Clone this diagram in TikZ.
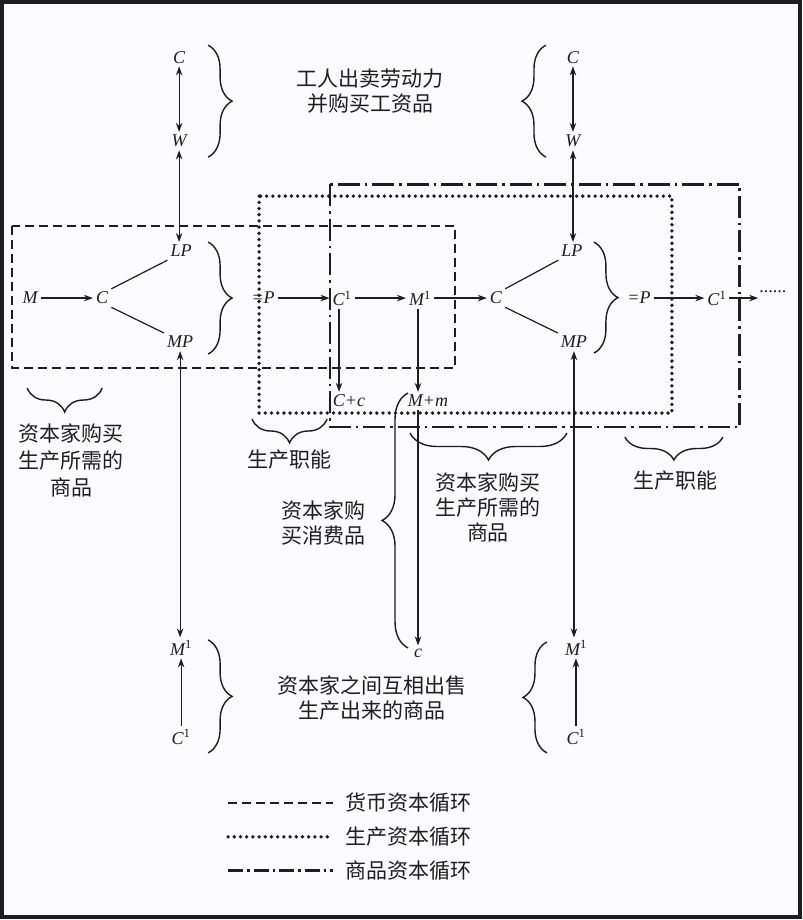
\documentclass[tikz,border=0pt]{standalone}
\usepackage{fontspec}
\newfontfamily\cjk{Noto Sans CJK SC}
\newfontfamily\lser{Liberation Serif}
\usetikzlibrary{arrows.meta,decorations.pathreplacing}
\definecolor{bgc}{HTML}{FBFAFC}
\definecolor{ink}{HTML}{1E1E1E}
\newcommand\supone{\textsuperscript{\upshape 1}}
\begin{document}
\begin{tikzpicture}[x=1pt,y=-1pt,
  every path/.style={draw=ink},
  m/.style={font=\lser\itshape\fontsize{18}{20}\selectfont, inner sep=3pt, text=ink},
  zh/.style={font=\cjk\fontsize{21}{25}\selectfont, align=center, inner sep=0pt, text=ink},
  ln/.style={line width=1.2pt},
  arr/.style={ln, -{Stealth[length=9pt,width=6.5pt]}},
  darr/.style={ln, {Stealth[length=9pt,width=6.5pt]}-{Stealth[length=9pt,width=6.5pt]}},
  br/.style={decorate, decoration={brace, amplitude=24pt}, line width=1.4pt},
  dashbox/.style={line width=1.5pt, dash pattern=on 9pt off 5pt},
  dotbox/.style={line width=3.8pt, line cap=round, dash pattern=on 0pt off 6.2pt},
  ddbox/.style={line width=2.8pt, dash pattern=on 22pt off 5pt on 2.5pt off 5pt}
]
\useasboundingbox (0,0) rectangle (802,920);
\fill[bgc] (0,0) rectangle (802,920);
\draw[line width=3.5pt] (2,2) rectangle (800,917);

% cycle boxes
\draw[dashbox] (12,226) rectangle (455,368);
\draw[dotbox] (259,196) rectangle (672,413);
\draw[ddbox] (330,184) rectangle (740,427);

% letter nodes
\node[m] (cTL) at (179,57) {C};
\node[m] (wTL) at (179,141) {W};
\node[m] (cTR) at (573,57) {C};
\node[m] (wTR) at (573,141) {W};
\node[m] (mL) at (30,298) {M};
\node[m] (cL) at (102,298) {C};
\node[m] (lpL) at (181,251) {LP};
\node[m] (mpL) at (180,342) {MP};
\node[m] (pL) at (263,298) {=P};
\node[m] (c1a) at (342,298) {C\supone};
\node[m] (m1a) at (420,298) {M\supone};
\node[m] (cR) at (496,298) {C};
\node[m] (lpR) at (572,251) {LP};
\node[m] (mpR) at (574,342) {MP};
\node[m] (pR) at (639,298) {=P};
\node[m] (c1b) at (717,298) {C\supone};
\node[m, font=\lser\fontsize{18}{20}\selectfont, inner sep=1pt] (dots) at (773,292) {......};
\node[m] (cc) at (349,401) {C+c};
\node[m] (mm) at (428,401) {M+m};
\node[m] (cs) at (418,653) {c};
\node[m] (m1L) at (181,648) {M\supone};
\node[m] (c1L) at (181,737) {C\supone};
\node[m] (m1R) at (576,648) {M\supone};
\node[m] (c1R) at (576,737) {C\supone};

% connectors
\draw[darr] (cTL) -- (wTL);
\draw[darr] (wTL.south) -- (wTL.south |- lpL.north);
\draw[darr] (cTR) -- (wTR);
\draw[darr] (wTR.south) -- (wTR.south |- lpR.north);
\draw[arr] (mL) -- (cL);
\draw[ln] (cL.north east) -- (lpL.south west);
\draw[ln] (cL.south east) -- (mpL.north west);
\draw[arr] (pL) -- (c1a);
\draw[arr] (c1a) -- (m1a);
\draw[arr] (m1a) -- (cR);
\draw[ln] (cR.north east) -- (lpR.south west);
\draw[ln] (cR.south east) -- (mpR.north west);
\draw[arr] (pR) -- (c1b);
\draw[arr] (c1b.east) -- (dots.west |- c1b.east);
\draw[arr] ([xshift=-3pt]c1a.south) -- ([xshift=-3pt]c1a.south |- cc.north);
\draw[arr] ([xshift=-2pt]m1a.south) -- ([xshift=-2pt]m1a.south |- mm.north);
\draw[arr] (cs.north |- mm.south) -- (cs.north);
\draw[darr] (mpL.south) -- (mpL.south |- m1L.north);
\draw[arr] (c1L) -- (m1L);
\draw[darr] (mpR.south) -- (mpR.south |- m1R.north);
\draw[arr] (c1R) -- (m1R);

% braces
\draw[br] (208,45) -- (208,157);
\draw[br] (546,157) -- (546,45);
\draw[br] (208,242) -- (208,354);
\draw[br] (594,242) -- (594,353);
\draw[br] (102,388) -- (27,388);
\draw[br] (327,419) -- (252,419);
\draw[br, decoration={brace, amplitude=27pt}] (567,433) -- (410,433);
\draw[br, decoration={brace, amplitude=23pt}] (723,437) -- (625,437);
\draw[br, decoration={brace, amplitude=26pt}] (408,648) -- (408,393);
\draw[br] (208,640) -- (208,753);
\draw[br] (547,753) -- (547,642);

% texts
\node[zh] (t1) at (370,91) {工人出卖劳动力\\并购买工资品};
\node[zh, font=\cjk\fontsize{21}{27}\selectfont] (t2) at (71,460) {资本家购买\\生产所需的\\商品};
\node[zh] (t3) at (289,460) {生产职能};
\node[zh] (t4) at (323,523) {资本家购\\买消费品};
\node[zh] (t5) at (488,507) {资本家购买\\生产所需的\\商品};
\node[zh] (t6) at (676,481) {生产职能};
\node[zh] (t7) at (372,698) {资本家之间互相出售\\生产出来的商品};

% legend
\coordinate (l1a) at (228,803); \coordinate (l1b) at (333,803);
\coordinate (l2a) at (228,837); \coordinate (l2b) at (333,837);
\coordinate (l3a) at (228,871); \coordinate (l3b) at (333,871);
\draw[dashbox] (l1a) -- (l1b);
\draw[dotbox] (l2a) -- (l2b);
\draw[ddbox, dash pattern=on 15pt off 4pt on 2.5pt off 4pt] (l3a) -- (l3b);
\node[zh, anchor=west] (g1) at (345,803) {货币资本循环};
\node[zh, anchor=west] (g2) at (345,837) {生产资本循环};
\node[zh, anchor=west] (g3) at (345,871) {商品资本循环};
\end{tikzpicture}
\end{document}
